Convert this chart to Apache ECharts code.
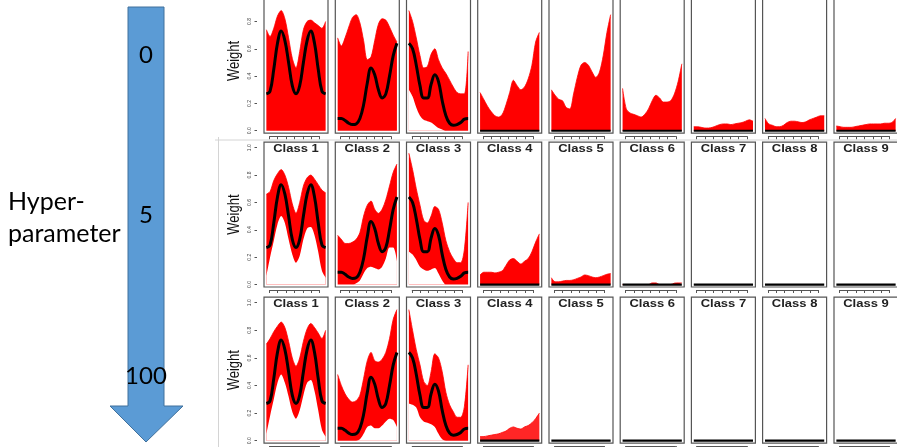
<!DOCTYPE html>
<html>
<head>
<meta charset="utf-8">
<script src="https://cdn.jsdelivr.net/npm/echarts@6/dist/echarts.min.js"></script>
<style>html,body{margin:0;padding:0;background:#fff;}#c{width:897px;height:447px;}</style>
</head>
<body>
<div id="c"></div>
<script>
// ---------- data ----------
const classNames = ['Class 1','Class 2','Class 3','Class 4','Class 5','Class 6','Class 7','Class 8','Class 9'];
const hyperLabels = ['0','5','100'];
const axisTitle = 'Weight';
const arrowTitle = ['Hyper-','parameter'];
const xIndex = [0,1,2,3,4,5,6,7,8,9,10,11,12,13,14,15,16];
const xTickValues = [0.8,3.07,5.33,7.6,9.87,12.13,14.4];
const yTickValues = [0,0.2,0.4,0.6,0.8,1.0];

// mean (true) weight profiles
const meanC1 = [0.27,0.29,0.45,0.64,0.73,0.66,0.50,0.33,0.27,0.33,0.50,0.66,0.73,0.64,0.45,0.29,0.27];
const meanC2 = [0.09,0.09,0.075,0.055,0.045,0.05,0.09,0.19,0.35,0.46,0.41,0.30,0.24,0.27,0.40,0.55,0.64];
const meanC3 = [0.64,0.60,0.48,0.33,0.24,0.24,0.34,0.41,0.36,0.22,0.11,0.055,0.04,0.045,0.06,0.085,0.09];
const meanZero = [0,0,0,0,0,0,0,0,0,0,0,0,0,0,0,0,0];

// hyper-parameter 0 : upper / lower envelope of sampled weights
const upperP0C1 = [0.74,0.69,0.75,0.84,0.88,0.82,0.68,0.53,0.46,0.58,0.74,0.80,0.81,0.79,0.77,0.75,0.80];
const upperP0C2 = [0.68,0.62,0.68,0.76,0.83,0.85,0.79,0.66,0.52,0.54,0.66,0.78,0.82,0.81,0.76,0.70,0.65];
const upperP0C3 = [0.88,0.80,0.68,0.55,0.46,0.47,0.56,0.60,0.52,0.46,0.42,0.37,0.32,0.28,0.27,0.27,0.58];
const lowerP0C3 = [0.30,0.25,0.17,0.11,0.08,0.07,0.06,0.04,0.02,0.01,0,0,0,0,0,0,0];
const upperP0C4 = [0.28,0.23,0.18,0.14,0.11,0.10,0.12,0.19,0.28,0.37,0.33,0.30,0.32,0.38,0.48,0.65,0.72];
const upperP0C5 = [0.30,0.26,0.23,0.22,0.17,0.16,0.27,0.39,0.48,0.50,0.48,0.43,0.39,0.43,0.55,0.72,0.85];
const upperP0C6 = [0.31,0.16,0.13,0.12,0.11,0.10,0.12,0.16,0.22,0.26,0.24,0.21,0.21,0.22,0.27,0.36,0.49];
const upperP0C7 = [0.03,0.03,0.025,0.02,0.02,0.025,0.035,0.045,0.05,0.05,0.045,0.05,0.055,0.06,0.07,0.08,0.07];
const upperP0C8 = [0.09,0.05,0.04,0.03,0.03,0.04,0.06,0.07,0.07,0.065,0.06,0.065,0.08,0.09,0.10,0.11,0.11];
const upperP0C9 = [0.035,0.03,0.025,0.025,0.025,0.03,0.035,0.04,0.045,0.05,0.05,0.05,0.05,0.055,0.055,0.06,0.09];

// hyper-parameter 5
const upperP5C1 = [0.66,0.68,0.76,0.81,0.84,0.80,0.71,0.59,0.52,0.60,0.72,0.78,0.80,0.77,0.73,0.69,0.67];
const lowerP5C1 = [0.06,0.20,0.32,0.44,0.50,0.45,0.33,0.22,0.16,0.21,0.33,0.41,0.42,0.36,0.24,0.10,0.05];
const upperP5C2 = [0.36,0.33,0.30,0.30,0.31,0.33,0.38,0.50,0.58,0.61,0.55,0.52,0.55,0.62,0.72,0.82,0.88];
const lowerP5C2 = [0,0,0,0,0,0.01,0.03,0.08,0.12,0.13,0.12,0.11,0.13,0.19,0.27,0.27,0.17];
const upperP5C3 = [0.96,0.84,0.70,0.58,0.47,0.45,0.50,0.57,0.55,0.45,0.32,0.24,0.19,0.16,0.16,0.26,0.60];
const lowerP5C3 = [0.24,0.22,0.18,0.13,0.11,0.10,0.11,0.12,0.08,0.03,0,0,0,0,0,0,0];
const upperP5C4 = [0.07,0.09,0.09,0.09,0.085,0.09,0.10,0.14,0.18,0.19,0.17,0.15,0.17,0.19,0.24,0.31,0.37];
const upperP5C5 = [0.05,0.02,0.02,0.025,0.03,0.03,0.035,0.045,0.055,0.07,0.065,0.055,0.05,0.055,0.065,0.075,0.08];
const upperP5C6 = [0,0,0,0,0,0,0,0,0.012,0.012,0,0,0,0,0.01,0.012,0.012];

// hyper-parameter 100
const upperP100C1 = [0.70,0.74,0.79,0.83,0.86,0.82,0.72,0.60,0.54,0.60,0.72,0.81,0.85,0.82,0.78,0.74,0.80];
const lowerP100C1 = [0.05,0.18,0.30,0.42,0.48,0.42,0.32,0.21,0.16,0.22,0.33,0.42,0.44,0.36,0.22,0.08,0.03];
const upperP100C2 = [0.48,0.40,0.34,0.30,0.28,0.29,0.33,0.45,0.58,0.64,0.58,0.57,0.59,0.64,0.74,0.88,0.95];
const lowerP100C2 = [0,0,0,0,0,0,0.01,0.05,0.10,0.11,0.09,0.09,0.11,0.14,0.16,0.15,0.10];
const upperP100C3 = [0.95,0.80,0.66,0.55,0.43,0.40,0.50,0.63,0.60,0.50,0.35,0.26,0.21,0.17,0.17,0.25,0.55];
const lowerP100C3 = [0.27,0.26,0.24,0.17,0.14,0.13,0.12,0.10,0.05,0.01,0,0,0,0,0,0,0];
const upperP100C4 = [0.03,0.03,0.035,0.04,0.045,0.05,0.06,0.07,0.09,0.10,0.09,0.085,0.10,0.11,0.13,0.16,0.20];

// ---------- assembly ----------
const meansByClass = [meanC1, meanC2, meanC3, meanZero, meanZero, meanZero, meanZero, meanZero, meanZero];
const upperByRow = [
  [upperP0C1, upperP0C2, upperP0C3, upperP0C4, upperP0C5, upperP0C6, upperP0C7, upperP0C8, upperP0C9],
  [upperP5C1, upperP5C2, upperP5C3, upperP5C4, upperP5C5, upperP5C6, null, null, null],
  [upperP100C1, upperP100C2, upperP100C3, upperP100C4, null, null, null, null, null]
];
const lowerByRow = [
  [null, null, lowerP0C3, null, null, null, null, null, null],
  [lowerP5C1, lowerP5C2, lowerP5C3, null, null, null, null, null, null],
  [lowerP100C1, lowerP100C2, lowerP100C3, null, null, null, null, null, null]
];

const colLeft = [264, 335.3, 406.5, 477.7, 549, 620.2, 691.4, 762.6, 834];
const panelW = 64;
const rowTop = [-11.3, 142.2, 297.2];
const rowH = [144.5, 144.8, 146];
const yMin = -0.018, yMax = 1.04, xMin = -0.64, xMax = 16.64;
const arrowLabelY = [55, 215, 376];

const pair = arr => xIndex.map((x, i) => [x, arr[i]]);
const grids = [], xAxes = [], yAxes = [], series = [], graphics = [];

// arrow
graphics.push({
  type: 'polygon', silent: true,
  shape: { points: [[128,7],[164,7],[164,406],[183,406],[146,442],[110,406],[128,406]] },
  style: { fill: '#5B9BD5', stroke: '#41719C', lineWidth: 1 }
});
hyperLabels.forEach((t, r) => {
  graphics.push({ type: 'text', x: 146, y: arrowLabelY[r], silent: true,
    style: { text: t, font: '24px Lato', fill: '#000', textAlign: 'center', textVerticalAlign: 'middle' } });
});
graphics.push({ type: 'text', x: 8, y: 202, silent: true,
  style: { text: arrowTitle[0], font: '25px Lato', fill: '#000', textAlign: 'left', textVerticalAlign: 'middle' } });
graphics.push({ type: 'text', x: 8, y: 234, silent: true,
  style: { text: arrowTitle[1], font: '25px Lato', fill: '#000', textAlign: 'left', textVerticalAlign: 'middle' } });
// separators of pasted image
graphics.push({ type: 'line', silent: true, shape: { x1: 215, y1: 140, x2: 897, y2: 140 }, style: { stroke: '#d4d4d4', lineWidth: 1 } });
graphics.push({ type: 'line', silent: true, shape: { x1: 218.5, y1: 137, x2: 218.5, y2: 447 }, style: { stroke: '#d4d4d4', lineWidth: 1 } });

for (let r = 0; r < 3; r++) {
  graphics.push({ type: 'text', x: 234, y: rowTop[r] + rowH[r] / 2, rotation: Math.PI / 2, scaleY: 1.3, silent: true,
    style: { text: axisTitle, font: '13px "Liberation Sans"', fill: '#111', textAlign: 'center', textVerticalAlign: 'middle' } });
  for (let c = 0; c < 9; c++) {
    const idx = grids.length;
    grids.push({ left: colLeft[c], top: rowTop[r], width: panelW, height: rowH[r], show: true,
      outerBoundsMode: 'none', containLabel: false,
      borderColor: '#555', borderWidth: 1.2, backgroundColor: '#fff' });
    xAxes.push({ gridIndex: idx, type: 'value', min: xMin, max: xMax, position: 'bottom', offset: 3,
      axisLine: { show: false, onZero: false }, splitLine: { show: false }, axisLabel: { show: false },
      axisTick: { show: true, customValues: xTickValues, length: 3, lineStyle: { color: '#555', width: 1 } } });
    yAxes.push({ gridIndex: idx, type: 'value', min: yMin, max: yMax, offset: 7,
      splitLine: { show: false }, axisLine: { show: false, onZero: false },
      axisTick: { show: c === 0, customValues: yTickValues, length: 2.5, lineStyle: { color: '#555', width: 1 } },
      axisLabel: { show: c === 0, customValues: yTickValues, fontSize: 5, rotate: 90, margin: 5, color: '#444',
        fontFamily: 'Liberation Sans', formatter: v => Number(v).toFixed(1) } });
    const up = upperByRow[r][c], lo = lowerByRow[r][c];
    if (up) series.push({ type: 'line', xAxisIndex: idx, yAxisIndex: idx, data: pair(up), smooth: 0.3,
      symbol: 'none', silent: true, z: 2, lineStyle: { width: 0.8, color: '#ff0000' },
      areaStyle: { color: '#ff0000', opacity: r === 2 && c === 3 ? 0.85 : 1 } });
    if (lo) series.push({ type: 'line', xAxisIndex: idx, yAxisIndex: idx, data: pair(lo), smooth: 0.3,
      symbol: 'none', silent: true, z: 3, lineStyle: { width: 0, color: '#fff' },
      areaStyle: { color: '#ffffff', opacity: 1 } });
    series.push({ type: 'line', xAxisIndex: idx, yAxisIndex: idx, data: pair(meansByClass[c]), smooth: 0.4,
      symbol: 'none', silent: true, z: 4, lineStyle: { width: c < 3 ? 3 : 2.2, color: '#000' } });
    if (r > 0) {
      graphics.push({ type: 'text', x: colLeft[c] + panelW / 2, y: rowTop[r] + 7.5, scaleX: 1.3, silent: true,
        style: { text: classNames[c], font: 'bold 10px "Liberation Sans"', fill: '#222', textAlign: 'center', textVerticalAlign: 'middle' }, z: 100 });
    }
  }
}

const chart = echarts.init(document.getElementById('c'), null, { renderer: 'canvas' });
chart.setOption({
  animation: false,
  backgroundColor: '#fff',
  grid: grids, xAxis: xAxes, yAxis: yAxes, series: series,
  graphic: { elements: graphics }
});

// R-style axis lines: from first to last tick, just below each panel (positions via the chart's own scales)
const axisLines = [];
grids.forEach((g, idx) => {
  const p0 = chart.convertToPixel({ gridIndex: idx }, [xTickValues[0], yMin]);
  const p1 = chart.convertToPixel({ gridIndex: idx }, [xTickValues[xTickValues.length - 1], yMin]);
  const yy = Math.round(p0[1] + 3) + 0.5;
  axisLines.push({ type: 'line', silent: true, shape: { x1: p0[0], y1: yy, x2: p1[0], y2: yy },
    style: { stroke: '#555', lineWidth: 1 } });
});
chart.setOption({ graphic: { elements: graphics.concat(axisLines) } });
</script>
</body>
</html>
